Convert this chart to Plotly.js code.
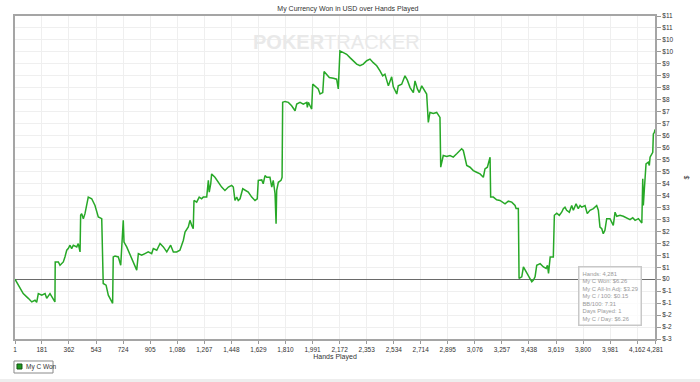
<!DOCTYPE html>
<html>
<head>
<meta charset="utf-8">
<script src="https://cdn.plot.ly/plotly-3.0.1.min.js"></script>
<style>html,body{margin:0;padding:0;background:#fff;}#chart{width:700px;height:382px;}</style>
</head>
<body>
<div id="chart"></div>
<script>
// Hands played (x) and cumulative currency won in USD (y)
const hands = [1,12,34,56,90,113,135,146,157,180,202,213,235,246,268,270,291,302,324,335,347,357,369,380,391,414,424,436,440,447,458,469,480,491,514,536,558,581,591,610,625,636,654,658,670,692,708,725,730,748,781,815,826,848,870,892,915,926,949,971,993,1016,1042,1060,1082,1104,
1127,1138,1160,1171,1183,1193,1198,1216,1233,1249,1260,1283,1294,1300,1310,1316,1338,1361,1383,1405,1428,1450,1461,1472,1484,1494,1506,1524,1539,1561,1584,1606,1621,1628,1651,1661,1673,1684,1706,1718,1728,1740,1747,1751,1762,1780,1787,1791,1807,1829,1851,1874,1885,1907,1929,1952,1956,1963,1974,1985,1992,2007,2029,2041,2059,2068,2085,2103,2130,2152,2163,2174,
2197,2219,2241,2264,2286,2308,2330,2353,2375,2397,2420,2442,2460,2475,2498,2520,2531,2554,2564,2587,2609,2625,2643,2665,2676,2692,2705,2721,2743,2754,2765,2776,2799,2821,2843,2848,2865,2888,2910,2932,2955,2966,2988,2999,3022,3044,3066,3088,3111,3133,3144,3160,3178,3182,3200,3222,3244,
3278,3300,3323,3345,3352,3367,3372,3390,3401,3412,3434,3457,3468,3479,3490,3513,3535,3553,3562,3569,3580,3601,3608,3624,3641,3657,3668,3679,3690,3708,3724,3735,3753,3768,3780,3791,3813,3828,3846,3869,3891,3902,3913,3925,3935,3946,3958,3980,4002,4014,4025,4047,4069,4092,4114,4132,4148,4170,4193,4199,4203,4210,4214,4221,4236,4243,4248,4266,4270,4277,4281];
const won = [0,-0.11,-0.38,-0.60,-0.80,-0.95,-0.88,-0.97,-0.60,-0.67,-0.60,-0.80,-0.60,-0.74,-0.95,0.72,0.72,0.58,0.72,0.93,1.21,1.28,1.42,1.28,1.42,1.35,1.49,1.14,2.67,2.74,2.53,2.74,3.08,3.43,3.36,3.08,2.60,2.53,-0.18,-0.25,-0.67,-0.80,-1.01,0.93,0.97,0.93,0.58,2.46,1.55,1.35,0.86,0.38,1.07,1.00,1.07,1.14,1.07,1.28,1.21,1.49,1.35,1.14,1.42,1.14,1.14,1.21,
1.63,1.97,2.18,2.46,2.25,2.11,3.29,3.22,3.43,3.36,3.43,3.43,4.13,3.64,3.99,4.40,4.26,4.05,3.85,3.71,3.85,3.92,3.85,3.29,3.43,3.29,3.36,3.78,3.71,3.64,3.43,3.29,3.36,4.13,4.15,3.99,4.33,4.26,4.26,3.85,4.13,3.57,2.32,3.71,4.05,4.13,4.26,7.39,7.43,7.39,7.25,7.04,7.32,7.39,7.32,7.39,7.18,7.39,7.25,7.11,8.15,8.08,7.95,7.74,7.80,8.68,8.57,8.43,8.40,8.36,7.95,9.54,
9.47,9.40,9.26,9.13,8.99,8.92,8.99,9.13,9.20,9.05,8.92,8.71,8.50,8.57,8.08,8.46,8.04,7.74,8.08,8.15,8.50,8.32,8.01,7.80,8.29,7.95,7.80,8.08,7.88,7.74,6.55,6.97,6.93,6.97,6.76,4.68,5.17,5.13,5.17,5.10,5.24,5.30,5.45,5.38,4.75,4.68,4.54,4.47,4.40,4.26,4.61,4.68,5.10,3.43,3.43,3.32,3.29,
3.15,3.26,3.22,3.08,2.95,2.95,0.03,0.10,0.51,0.38,0.10,-0.11,-0.04,0.10,0.58,0.65,0.51,0.45,0.58,0.24,0.93,0.93,2.67,2.76,2.67,2.80,2.95,3.01,2.88,2.80,3.08,2.88,3.15,2.95,3.08,3.01,3.08,2.74,2.88,2.95,3.08,2.88,2.18,2.11,1.90,2.04,2.53,2.53,2.25,2.80,2.63,2.67,2.63,2.57,2.49,2.57,2.46,2.53,2.35,4.20,3.08,3.78,4.05,4.82,4.89,4.75,5.10,5.30,6.07,6.14,6.26];

const xTickVals = [1,181,362,543,724,905,1086,1267,1448,1629,1810,1991,2172,2353,2534,2714,2895,3076,3257,3438,3619,3800,3981,4162,4281];
const xTickText = ['1','181','362','543','724','905','1,086','1,267','1,448','1,629','1,810','1,991','2,172','2,353','2,534','2,714','2,895','3,076','3,257','3,438','3,619','3,800','3,981','4,162','4,281'];
const yTickVals = [-2.5,-2,-1.5,-1,-0.5,0,0.5,1,1.5,2,2.5,3,3.5,4,4.5,5,5.5,6,6.5,7,7.5,8,8.5,9,9.5,10,10.5,11];
const yTickText = ['$-3','$-2','$-2','$-1','$-1','$0','$1','$1','$2','$2','$3','$3','$4','$4','$5','$5','$6','$6','$7','$7','$8','$8','$9','$9','$10','$10','$11','$11'];

const seriesName = 'My C Won';
const infoLines = ['Hands: 4,281','My C Won: $6.26','My C All-In Adj: $3.29','My C / 100: $0.15','BB/100: 7.31','Days Played: 1','My C / Day: $6.26'];

const FONT = '"Liberation Sans", Arial, sans-serif';
const lineGreen = '#27a827';

const traces = [
  {x: hands, y: won, type: 'scatter', mode: 'lines', name: seriesName,
   line: {color: lineGreen, width: 1.5}, showlegend: false, hoverinfo: 'skip'}
];

const layout = {
  width: 700, height: 382,
  margin: {l: 15, r: 45, t: 16, b: 43},
  paper_bgcolor: '#ffffff', plot_bgcolor: '#ffffff',
  font: {family: FONT, size: 7, color: '#333'},
  title: {text: 'My Currency Won in USD over Hands Played', font: {family: FONT, size: 7, color: '#333'},
          x: 0.497, xanchor: 'center', y: 0.977, yanchor: 'middle'},
  xaxis: {
    range: [1, 4281], tickvals: xTickVals, ticktext: xTickText, tickangle: 0,
    showgrid: true, gridcolor: '#efefef', gridwidth: 1,
    ticks: 'outside', ticklen: 3, tickcolor: '#9a9a9a', tickfont: {family: FONT, size: 6.5, color: '#333'},
    showline: true, linecolor: '#a5a5a5', linewidth: 2, mirror: true, zeroline: false,
    title: {text: 'Hands Played', font: {size: 7, color: '#333'}, standoff: 0}, automargin: false, fixedrange: true
  },
  yaxis: {
    side: 'right', range: [-2.5, 11], tickvals: yTickVals, ticktext: yTickText,
    showgrid: true, gridcolor: '#efefef', gridwidth: 1,
    ticks: 'outside', ticklen: 4, tickcolor: '#9a9a9a', tickfont: {family: FONT, size: 6.5, color: '#333'},
    showline: true, linecolor: '#a5a5a5', linewidth: 2, mirror: true,
    zeroline: true, zerolinecolor: '#6a6a6a', zerolinewidth: 1,
    title: {text: '$', font: {size: 7, color: '#333'}, standoff: 12}, automargin: false, fixedrange: true
  },
  showlegend: false,
  annotations: [
    {xref: 'paper', yref: 'paper', x: 0.503, y: 0.92, xanchor: 'center', yanchor: 'middle', showarrow: false,
     text: '<b>POKER</b>TRACKER', font: {family: FONT, size: 20, color: '#e9e9e9'}},
    {xref: 'paper', yref: 'paper', x: 0.8797, y: 0.226, xanchor: 'left', yanchor: 'top', showarrow: false, align: 'left',
     text: infoLines.join('<br>'), font: {family: FONT, size: 5.8, color: '#9a9a9a'},
     bgcolor: 'rgba(255,255,255,0.75)', bordercolor: '#c8c8c8', borderwidth: 1.5, borderpad: 3},
    // legend label
    {xref: 'paper', yref: 'paper', x: 0.0145, y: -0.0867, xanchor: 'left', yanchor: 'middle', showarrow: false,
     text: seriesName, font: {family: FONT, size: 6.5, color: '#333'}}
  ],
  shapes: [
    // legend box and swatch
    {type: 'rect', xref: 'paper', yref: 'paper', x0: -0.0016, x1: 0.0594, y0: -0.1053, y1: -0.0681,
     fillcolor: '#ffffff', line: {color: '#8a8a8a', width: 1}},
    {type: 'rect', xref: 'paper', yref: 'paper', x0: 0.0031, x1: 0.0109, y0: -0.0929, y1: -0.0774,
     fillcolor: '#1f9a1f', line: {color: '#145214', width: 1}},
    // bottom band
    {type: 'rect', xref: 'paper', yref: 'paper', x0: -0.03, x1: 1.08, y0: -0.134, y1: -0.124,
     fillcolor: '#eeeeee', line: {width: 0}, layer: 'below'}
  ]
};

Plotly.newPlot('chart', traces, layout, {displayModeBar: false, staticPlot: true});
</script>
</body>
</html>
